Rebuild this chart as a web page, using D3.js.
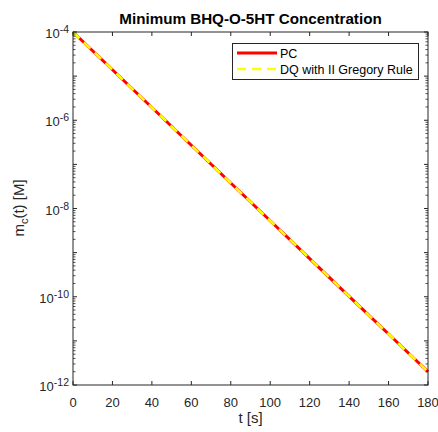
<!DOCTYPE html>
<html><head><meta charset="utf-8">
<script src="https://cdn.jsdelivr.net/npm/d3@7"></script>
<style>body{margin:0;background:#fff}svg{display:block;font-family:"Liberation Sans",Arial,sans-serif}</style>
</head><body><svg id="c" width="438" height="432"></svg>
<script>
const times = [0, 20, 40, 60, 80, 100, 120, 140, 160, 180];
const pcValues = [1e-4, 1.394e-5, 1.944e-6, 2.71e-7, 3.78e-8, 5.27e-9, 7.34e-10, 1.02e-10, 1.43e-11, 2.0e-12];
const dqValues = [1e-4, 1.394e-5, 1.944e-6, 2.71e-7, 3.78e-8, 5.27e-9, 7.34e-10, 1.02e-10, 1.43e-11, 2.0e-12];
const xTicks = [0, 20, 40, 60, 80, 100, 120, 140, 160, 180];
const yTickExps = [-12, -10, -8, -6, -4];
const seriesNames = ["PC", "DQ with II Gregory Rule"];

const svg = d3.select("#c");
const m = {l: 73, r: 428, t: 32, b: 385};
const x = d3.scaleLinear().domain([0, 180]).range([m.l, m.r]);
const y = d3.scaleLog().domain([1e-12, 1e-4]).range([m.b, m.t]);
const ax = "#262626";

// lines
const line = d3.line().x((d, i) => x(times[i])).y(d => y(d));
const g = svg.append("g");
g.append("path").datum(pcValues).attr("d", line).attr("fill", "none")
  .attr("stroke", "#ff0000").attr("stroke-width", 3);
g.append("path").datum(dqValues).attr("d", line).attr("fill", "none")
  .attr("stroke", "#ffff00").attr("stroke-width", 2.5).attr("stroke-dasharray", "9,6");

// axes box
svg.append("rect").attr("x", m.l).attr("y", m.t).attr("width", m.r - m.l).attr("height", m.b - m.t)
  .attr("fill", "none").attr("stroke", ax).attr("stroke-width", 1);

// x ticks
const xt = svg.append("g");
xTicks.forEach(t => {
  xt.append("line").attr("x1", x(t)).attr("x2", x(t)).attr("y1", m.b).attr("y2", m.b - 4).attr("stroke", ax);
  xt.append("line").attr("x1", x(t)).attr("x2", x(t)).attr("y1", m.t).attr("y2", m.t + 4).attr("stroke", ax);
  xt.append("text").attr("x", x(t)).attr("y", m.b + 21.5).attr("text-anchor", "middle")
    .attr("font-size", 13).attr("fill", ax).text(t);
});

// y ticks: majors each decade, minors
const yt = svg.append("g");
for (let e = -12; e <= -4; e++) {
  [m.l, m.r].forEach((xx, k) => {
    const dir = k === 0 ? 1 : -1;
    yt.append("line").attr("x1", xx).attr("x2", xx + dir * 4).attr("y1", y(Math.pow(10, e))).attr("y2", y(Math.pow(10, e))).attr("stroke", ax);
    if (e < -4) {
      for (let k2 = 2; k2 <= 9; k2++) {
        const v = k2 * Math.pow(10, e);
        yt.append("line").attr("x1", xx).attr("x2", xx + dir * 2.5).attr("y1", y(v)).attr("y2", y(v)).attr("stroke", ax).attr("stroke-width", 0.8);
      }
    }
  });
}
yTickExps.forEach(e => {
  const t = yt.append("text").attr("x", m.l - 4).attr("y", y(Math.pow(10, e)) + 6).attr("text-anchor", "end")
    .attr("font-size", 13).attr("fill", ax);
  t.append("tspan").text("10");
  t.append("tspan").attr("dy", -5).attr("font-size", 10.5).text(e);
});

// title and labels
svg.append("text").attr("x", 250.5).attr("y", 24).attr("text-anchor", "middle").attr("font-size", 15.2)
  .attr("font-weight", "bold").attr("fill", "#000").text("Minimum BHQ-O-5HT Concentration");
svg.append("text").attr("x", 250.5).attr("y", 423).attr("text-anchor", "middle").attr("font-size", 15)
  .attr("fill", ax).text("t [s]");
const yl = svg.append("text").attr("transform", "translate(24,208) rotate(-90)").attr("text-anchor", "middle")
  .attr("font-size", 15).attr("fill", ax);
yl.append("tspan").text("m");
yl.append("tspan").attr("dy", 4).attr("font-size", 11).text("c");
yl.append("tspan").attr("dy", -4).text("(t) [M]");

// legend
const lg = svg.append("g");
lg.append("rect").attr("x", 232.5).attr("y", 43.5).attr("width", 186).attr("height", 36)
  .attr("fill", "#fff").attr("stroke", ax).attr("stroke-width", 1);
lg.append("line").attr("x1", 237).attr("x2", 277).attr("y1", 53).attr("y2", 53).attr("stroke", "#ff0000").attr("stroke-width", 3);
lg.append("line").attr("x1", 237).attr("x2", 277).attr("y1", 69).attr("y2", 69).attr("stroke", "#ffff00").attr("stroke-width", 2.5).attr("stroke-dasharray", "9,6");
lg.append("text").attr("x", 280).attr("y", 57.5).attr("font-size", 12.5).attr("fill", "#000").text(seriesNames[0]);
lg.append("text").attr("x", 280).attr("y", 73.5).attr("font-size", 12.5).attr("fill", "#000").text(seriesNames[1]);
</script></body></html>
